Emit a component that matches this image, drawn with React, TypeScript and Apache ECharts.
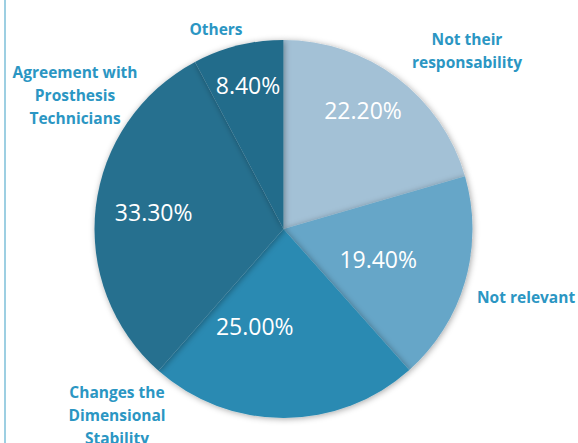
import React, { useEffect, useRef } from "react";
import * as echarts from "echarts";

const categories = [
  "Not their\nresponsability",
  "Not relevant",
  "Changes the\nDimensional\nStability",
  "Agreement with\nProsthesis\nTechnicians",
  "Others",
];
const values = [22.2, 19.4, 25.0, 33.3, 8.4];
const colors = ["#A3C1D6", "#66A6C8", "#2A8AB2", "#27708F", "#246C8B"];

// label layout helpers (offsets of inside labels, anchors of outside labels)
const insideOffsets = [
  [21, -41],
  [1, 3],
  [-29, 0],
  [-33, -6],
  [-12, -49],
];
const outsideAnchors: [number, number, string][] = [
  [467, 50, "center"],
  [477, 297, "left"],
  [117, 415, "center"],
  [75, 95, "center"],
  [216, 29, "center"],
];

export default function App() {
  const ref = useRef<HTMLDivElement>(null);
  useEffect(() => {
    if (!ref.current) return;
    const chart = echarts.init(ref.current, undefined, { renderer: "svg" });
    const data = categories.map((name, i) => ({
      name,
      value: values[i],
      itemStyle: { color: colors[i] },
    }));
    chart.setOption({
      animation: false,
      backgroundColor: "#ffffff",
      graphic: [
        {
          type: "line",
          shape: { x1: 5, y1: 0, x2: 5, y2: 443 },
          style: { stroke: "#9DCFE2", lineWidth: 2 },
        },
      ],
      series: [
        {
          type: "pie",
          center: [283.5, 229],
          radius: [0, 189],
          startAngle: 90,
          clockwise: true,
          silent: true,
          data,
          itemStyle: {
            borderWidth: 0,
            shadowBlur: 6,
            shadowColor: "rgba(0,0,0,0.35)",
            shadowOffsetX: 1,
            shadowOffsetY: 1,
          },
          label: {
            show: true,
            position: "inside",
            formatter: (p: any) => p.value.toFixed(2) + "%",
            color: "#ffffff",
            fontFamily: "Open Sans",
            fontSize: 23,
          },
          labelLine: { show: false },
          labelLayout: (p: any) => ({
            dx: insideOffsets[p.dataIndex][0],
            dy: insideOffsets[p.dataIndex][1],
          }),
        },
        {
          type: "pie",
          center: [283.5, 229],
          radius: [0, 189],
          startAngle: 90,
          clockwise: true,
          silent: true,
          data: categories.map((name, i) => ({
            name,
            value: values[i],
            itemStyle: { color: "rgba(0,0,0,0)" },
          })),
          label: {
            show: true,
            position: "outside",
            alignTo: "none",
            overflow: "none",
            formatter: (p: any) => p.name,
            color: "#2B96C3",
            fontFamily: "Open Sans",
            fontWeight: "bold",
            fontSize: 15.5,
            lineHeight: 23,
            align: "center",
          },
          labelLine: { show: false },
          labelLayout: (p: any) => ({
            x: outsideAnchors[p.dataIndex][0],
            y: outsideAnchors[p.dataIndex][1],
            align: outsideAnchors[p.dataIndex][2],
            verticalAlign: "middle",
          }),
        },
      ],
    });
    return () => chart.dispose();
  }, []);
  return (
    <div
      ref={ref}
      style={{ position: "absolute", left: 0, top: 0, width: 578, height: 443 }}
    />
  );
}
